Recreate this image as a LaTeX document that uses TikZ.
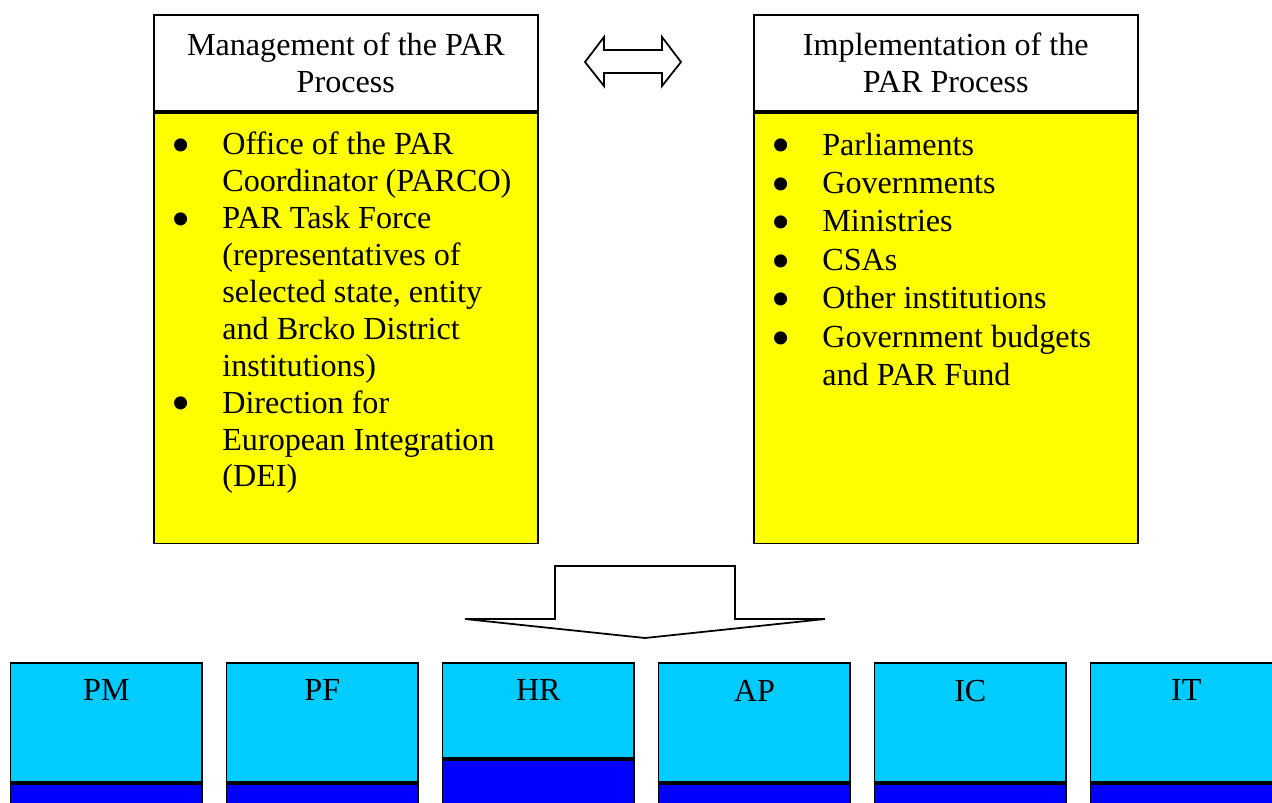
\documentclass[tikz,border=0pt]{standalone}
\usepackage{fontspec}
\setmainfont{Liberation Serif}
\usetikzlibrary{positioning}
\definecolor{parYellow}{HTML}{FFFF00}
\definecolor{parCyan}{HTML}{00CCFF}
\definecolor{parBlue}{HTML}{0000FF}
\tikzset{
	headbox/.style={draw, line width=1pt, fill=white, minimum width=7.68cm, minimum height=1.92cm, inner sep=0pt, align=center, anchor=north west},
	listbox/.style={draw, line width=1pt, fill=parYellow, minimum width=7.68cm, minimum height=8.62cm, inner sep=0pt},
	listtext/.style={inner sep=0pt},
	areabox/.style={draw, line width=1pt, fill=parCyan, minimum width=3.84cm, inner sep=0pt, anchor=north west},
	basebox/.style={draw, line width=1pt, fill=parBlue, minimum width=3.84cm, minimum height=1cm, inner sep=0pt},
	arealabel/.style={inner sep=0pt},
	bigarrow/.style={draw, line width=1pt, fill=white, line join=miter}
}
\newcommand{\parfont}{\fontsize{18.3}{21.2}\selectfont}
\newcommand{\parbullet}{\raisebox{-0.27em}[0pt][0pt]{\scalebox{1.7}{\textbullet}}}

\begin{document}
\begin{tikzpicture}[x=0.02cm, y=-0.02cm, font=\parfont]
			%%%%% START %%%%%
			\clip (0, 0) rectangle (1272, 802);
			\fill[white] (0, 0) rectangle (1272, 802);
			
			% management of the reform
			\node[headbox] (mgmthead) at (153, 14) {Management of the PAR\\Process};
			\node[listbox, below=0pt of mgmthead] (mgmtlist) {};
			\node[listtext, font=\fontsize{18.3}{21}\selectfont, below right=0.34cm and 0.36cm of mgmtlist.north west] (mgmttext) {%
				\begin{tabular}{@{}p{1.02cm}@{}l@{}}
					\parbullet & Office of the PAR\\
					 & Coordinator (PARCO)\\
					\parbullet & PAR Task Force\\
					 & (representatives of\\
					 & selected state, entity\\
					 & and Brcko District\\
					 & institutions)\\
					\parbullet & Direction for\\
					 & European Integration\\
					 & (DEI)
				\end{tabular}};
			
			% implementation of the reform
			\node[headbox] (implhead) at (753, 14) {Implementation of the\\PAR Process};
			\node[listbox, below=0pt of implhead] (impllist) {};
			\node[listtext, font=\fontsize{18.3}{21.9}\selectfont, below right=0.32cm and 0.36cm of impllist.north west] (impltext) {%
				\begin{tabular}{@{}p{1.02cm}@{}l@{}}
					\parbullet & Parliaments\\
					\parbullet & Governments\\
					\parbullet & Ministries\\
					\parbullet & CSAs\\
					\parbullet & Other institutions\\
					\parbullet & Government budgets\\
					 & and PAR Fund
				\end{tabular}};
			
			% arrows
			\draw[bigarrow] (585, 62) -- (604, 37) -- (604, 50) -- (662, 50) -- (662, 37) -- (681, 62)
				-- (662, 86) -- (662, 73) -- (604, 73) -- (604, 86) -- cycle;
			\draw[bigarrow] (555, 566) -- (735, 566) -- (735, 619) -- (825, 619) -- (645, 638)
				-- (465, 619) -- (555, 619) -- cycle;
			
			% reform areas
			\node[areabox, minimum height=2.38cm] (pm) at (9.5, 662) {};
			\node[basebox, below=0pt of pm] (pmbase) {};
			\node[arealabel, below=0.35cm of pm.north] (pmlabel) {PM};
			
			\node[areabox, minimum height=2.38cm] (pf) at (225.5, 662) {};
			\node[basebox, below=0pt of pf] (pfbase) {};
			\node[arealabel, below=0.35cm of pf.north] (pflabel) {PF};
			
			\node[areabox, minimum height=1.9cm] (hr) at (441.5, 662) {};
			\node[basebox, below=0pt of hr] (hrbase) {};
			\node[arealabel, below=0.35cm of hr.north] (hrlabel) {HR};
			
			\node[areabox, minimum height=2.38cm] (ap) at (657.5, 662) {};
			\node[basebox, below=0pt of ap] (apbase) {};
			\node[arealabel, below=0.35cm of ap.north] (aplabel) {AP};
			
			\node[areabox, minimum height=2.38cm] (ic) at (873.5, 662) {};
			\node[basebox, below=0pt of ic] (icbase) {};
			\node[arealabel, below=0.35cm of ic.north] (iclabel) {IC};
			
			\node[areabox, minimum height=2.38cm] (it) at (1089.5, 662) {};
			\node[basebox, below=0pt of it] (itbase) {};
			\node[arealabel, below=0.35cm of it.north] (itlabel) {IT};
			%%%%% END %%%%%
\end{tikzpicture}
\end{document}
